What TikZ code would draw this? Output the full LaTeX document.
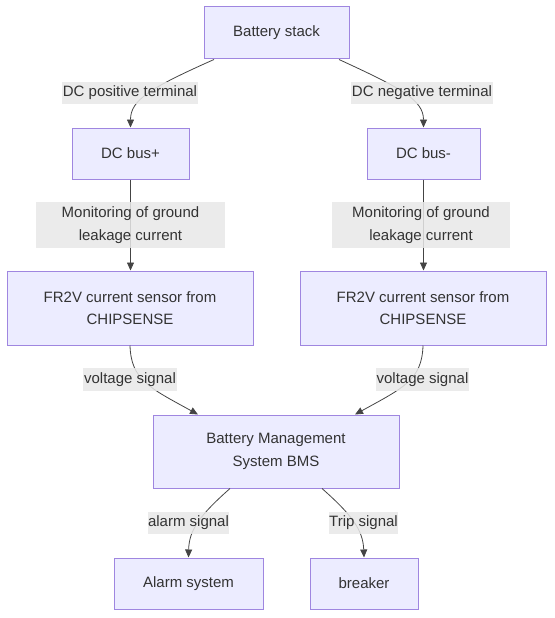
\documentclass[tikz,border=0pt]{standalone}
\usepackage{fontspec}
\setmainfont{Liberation Sans}
\usetikzlibrary{arrows.meta}
\definecolor{boxfill}{HTML}{ECECFF}
\definecolor{boxline}{HTML}{9F86E0}
\definecolor{txt}{HTML}{333333}
\definecolor{edgecol}{HTML}{444444}
\definecolor{lblfill}{HTML}{E8E8E8}
\begin{document}
\begin{tikzpicture}[x=1pt,y=-1pt,
  box/.style={draw=boxline, fill=boxfill, line width=1pt, inner sep=0pt, align=center, text=txt, font=\fontsize{15}{22.5}\selectfont},
  lbl/.style={fill=lblfill, fill opacity=0.85, text opacity=1, inner sep=0pt, align=center, text=txt, font=\fontsize{15}{22.5}\selectfont},
  conn/.style={draw=edgecol, line width=0.8pt, -{Triangle[length=8pt,width=7pt]}}]
\useasboundingbox (0,0) rectangle (554,618);
% boxes
\node[box, minimum width=145pt, minimum height=52pt] (bs) at (276.5,33) {Battery stack};
\node[box, minimum width=117pt, minimum height=51pt] (bp) at (130.5,153.5) {DC bus+};
\node[box, minimum width=113pt, minimum height=51pt] (bn) at (423.5,153.5) {DC bus-};
\node[box, minimum width=246pt, minimum height=74pt] (f1) at (130,308) {FR2V current sensor from\\CHIPSENSE};
\node[box, minimum width=246pt, minimum height=74pt] (f2) at (423,308) {FR2V current sensor from\\CHIPSENSE};
\node[box, minimum width=246pt, minimum height=73pt] (bms) at (276,451.5) {Battery Management\\System BMS};
\node[box, minimum width=149pt, minimum height=51pt] (al) at (188.5,583.5) {Alarm system};
\node[box, minimum width=108pt, minimum height=51pt] (br) at (364,583.5) {breaker};
% connectors
\draw[conn] ([xshift=-62.5pt]bs.south) .. controls (150,88) and (130.5,100) .. (bp.north);
\draw[conn] ([xshift=62.5pt]bs.south) .. controls (401,88) and (423.5,100) .. (bn.north);
\draw[conn] (bp.south) -- (bp.south |- f1.north);
\draw[conn] (bn.south) -- (bn.south |- f2.north);
\draw[conn] (f1.south) .. controls (131,380) and (150,388) .. ([xshift=-78pt]bms.north);
\draw[conn] (f2.south) .. controls (422,380) and (403,388) .. ([xshift=79pt]bms.north);
\draw[conn] ([xshift=-46pt]bms.south) .. controls (200,515) and (189,530) .. (al.north);
\draw[conn] ([xshift=46pt]bms.south) .. controls (352,515) and (363,530) .. (br.north);
% labels
\node[lbl, minimum width=136pt, minimum height=22pt] (l1) at (130,93) {DC positive terminal};
\node[lbl, minimum width=142pt, minimum height=22pt] (l2) at (422,93) {DC negative terminal};
\node[lbl, minimum width=189pt, minimum height=46pt] (l3) at (130.5,225) {Monitoring of ground\\leakage current};
\node[lbl, minimum width=178pt, minimum height=46pt] (l4) at (421,225) {Monitoring of ground\\leakage current};
\node[lbl, minimum width=94pt, minimum height=23pt] (l5) at (130,379.5) {voltage signal};
\node[lbl, minimum width=93pt, minimum height=23pt] (l6) at (422.5,379.5) {voltage signal};
\node[lbl, minimum width=81pt, minimum height=22pt] (l7) at (188.5,523) {alarm signal};
\node[lbl, minimum width=69pt, minimum height=22pt] (l8) at (363.5,523) {Trip signal};
\end{tikzpicture}
\end{document}
